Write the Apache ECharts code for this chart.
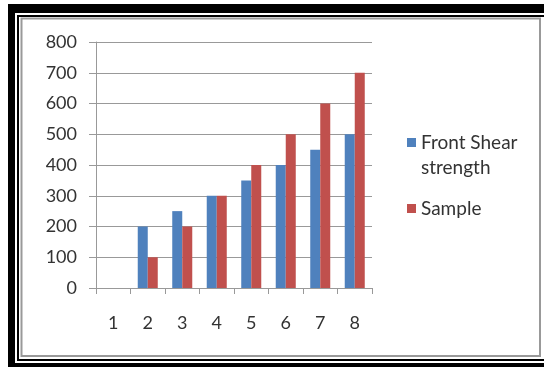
<!DOCTYPE html>
<html>
<head>
<meta charset="utf-8">
<script src="https://cdn.jsdelivr.net/npm/echarts@6/dist/echarts.min.js"></script>
<style>html,body{margin:0;padding:0;background:#fff}#c{width:544px;height:367px}</style>
</head>
<body>
<div id="c"></div>
<script>
var categories = ['1','2','3','4','5','6','7','8'];
var frontShear = [0, 200, 250, 300, 350, 400, 450, 500];
var sample = [0, 100, 200, 300, 400, 500, 600, 700];
var seriesNames = ['Front Shear strength', 'Sample'];
var yTicks = {min: 0, max: 800, step: 100};

var chart = echarts.init(document.getElementById('c'), null, {renderer: 'canvas'});
var font = 'Lato';
var txt = '#333';
chart.setOption({
  animation: false,
  backgroundColor: '#fff',
  graphic: [
    {type: 'rect', shape: {x: 8, y: 4, width: 536, height: 9}, style: {fill: '#000'}, silent: true},
    {type: 'rect', shape: {x: 8, y: 4, width: 7, height: 363}, style: {fill: '#000'}, silent: true},
    {type: 'rect', shape: {x: 8, y: 363, width: 536, height: 4}, style: {fill: '#000'}, silent: true},
    {type: 'rect', shape: {x: 17, y: 15, width: 527, height: 2}, style: {fill: '#000'}, silent: true},
    {type: 'rect', shape: {x: 17, y: 15, width: 2, height: 346}, style: {fill: '#000'}, silent: true},
    {type: 'rect', shape: {x: 17, y: 359, width: 527, height: 2}, style: {fill: '#000'}, silent: true},
    {type: 'rect', shape: {x: 21.5, y: 18.5, width: 518.5, height: 337.5}, style: {fill: 'none', stroke: '#999', lineWidth: 2}, silent: true}
  ],
  grid: {left: 96, top: 42, width: 276, height: 246},
  legend: [
    {
      orient: 'vertical', left: 407, top: 105, padding: 0,
      itemWidth: 9, itemHeight: 9, itemGap: 0,
      data: [{name: seriesNames[0], icon: 'rect'}],
      formatter: function () { return ' \nFront Shear\nstrength'; },
      textStyle: {fontFamily: font, fontSize: 19, color: txt, lineHeight: 25}
    },
    {
      orient: 'vertical', left: 407, top: 199, padding: 0,
      itemWidth: 9, itemHeight: 9,
      data: [{name: seriesNames[1], icon: 'rect'}],
      textStyle: {fontFamily: font, fontSize: 19, color: txt}
    }
  ],
  xAxis: {
    type: 'category', data: categories,
    axisLine: {lineStyle: {color: '#999', width: 1}},
    axisTick: {show: true, length: 6, lineStyle: {color: '#999'}},
    axisLabel: {fontFamily: font, fontSize: 18, color: txt, margin: 26}
  },
  yAxis: {
    type: 'value', min: yTicks.min, max: yTicks.max, interval: yTicks.step,
    axisLine: {show: true, lineStyle: {color: '#999', width: 1}},
    axisTick: {show: true, length: 7, lineStyle: {color: '#999'}},
    splitLine: {lineStyle: {color: '#999', width: 1}},
    axisLabel: {fontFamily: font, fontSize: 18, color: txt, margin: 19}
  },
  series: [
    {name: seriesNames[0], type: 'bar', data: frontShear, barGap: '0%', barCategoryGap: '42%', itemStyle: {color: '#4F81BD'}},
    {name: seriesNames[1], type: 'bar', data: sample, barGap: '0%', barCategoryGap: '42%', itemStyle: {color: '#C0504D'}}
  ]
});
</script>
</body>
</html>
